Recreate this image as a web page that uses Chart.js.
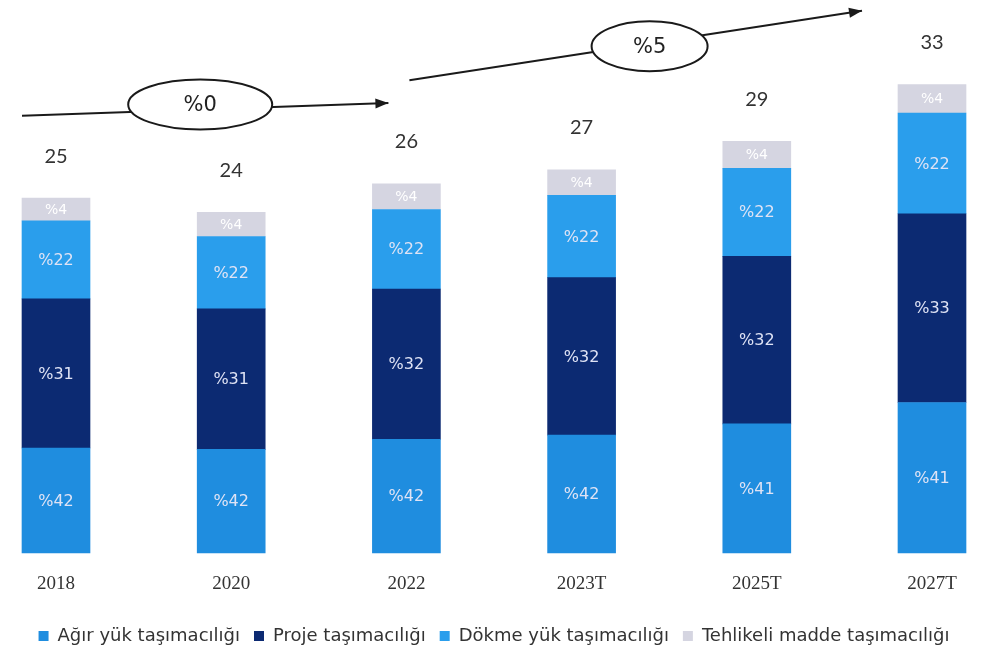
<!DOCTYPE html>
<html>
<head>
<meta charset="utf-8">
<script src="https://cdn.jsdelivr.net/npm/chart.js@4.4.1/dist/chart.umd.min.js"></script>
<style>
html, body { margin: 0; padding: 0; background: #fff; }
</style>
</head>
<body>
<canvas id="tasimaChart" width="988" height="659"></canvas>
<script>
var yillar = ['2018', '2020', '2022', '2023T', '2025T', '2027T'];
var toplamlar = [25, 24, 26, 27, 29, 33];

// segment heights as they appear in the picture
var agirYuk = [7.4, 7.3, 8.0, 8.3, 9.1, 10.6];
var proje = [10.5, 9.9, 10.6, 11.1, 11.8, 13.3];
var dokme = [5.5, 5.1, 5.6, 5.8, 6.2, 7.1];
var tehlikeli = [1.6, 1.7, 1.8, 1.8, 1.9, 2.0];

// share labels written on the segments
var agirYukPay = ['%42', '%42', '%42', '%42', '%41', '%41'];
var projePay = ['%31', '%31', '%32', '%32', '%32', '%33'];
var dokmePay = ['%22', '%22', '%22', '%22', '%22', '%22'];
var tehlikeliPay = ['%4', '%4', '%4', '%4', '%4', '%4'];

var buyumeOranlari = ['%0', '%5'];

var payEtiketleri = [agirYukPay, projePay, dokmePay, tehlikeliPay];

var segmentLabels = {
    id: 'segmentLabels',
    afterDatasetsDraw: function (chart) {
        var ctx = chart.ctx;
        ctx.save();
        ctx.textAlign = 'center';
        ctx.textBaseline = 'middle';
        chart.data.datasets.forEach(function (ds, i) {
            var meta = chart.getDatasetMeta(i);
            meta.data.forEach(function (bar, j) {
                var cy = (bar.y + bar.base) / 2;
                ctx.font = (i === 3 ? '14px' : '16px') + ' "DejaVu Sans", sans-serif';
                ctx.fillStyle = i === 3 ? '#ffffff' : '#dfe3f5';
                ctx.fillText(payEtiketleri[i][j], bar.x, cy + 1);
            });
        });
        // totals above the bars
        var top = chart.getDatasetMeta(3);
        ctx.font = '20px Lato, "Open Sans", sans-serif';
        ctx.fillStyle = '#333333';
        top.data.forEach(function (bar, j) {
            ctx.fillText(String(toplamlar[j]), bar.x, bar.y - 42);
        });
        ctx.restore();
    }
};

function ok(ctx, x1, y1, x2, y2) {
    ctx.beginPath();
    ctx.moveTo(x1, y1);
    ctx.lineTo(x2, y2);
    ctx.stroke();
    var a = Math.atan2(y2 - y1, x2 - x1);
    ctx.beginPath();
    ctx.moveTo(x2, y2);
    ctx.lineTo(x2 - 13 * Math.cos(a) + 5 * Math.sin(a), y2 - 13 * Math.sin(a) - 5 * Math.cos(a));
    ctx.lineTo(x2 - 13 * Math.cos(a) - 5 * Math.sin(a), y2 - 13 * Math.sin(a) + 5 * Math.cos(a));
    ctx.closePath();
    ctx.fill();
}

function elips(ctx, cx, cy, rx, ry, text) {
    ctx.beginPath();
    ctx.ellipse(cx, cy, rx, ry, 0, 0, Math.PI * 2);
    ctx.fillStyle = '#ffffff';
    ctx.fill();
    ctx.stroke();
    ctx.fillStyle = '#222222';
    ctx.font = '21px "DejaVu Sans", sans-serif';
    ctx.textAlign = 'center';
    ctx.textBaseline = 'middle';
    ctx.fillText(text, cx, cy + 1);
}

var buyumeOklari = {
    id: 'buyumeOklari',
    afterDraw: function (chart) {
        var ctx = chart.ctx;
        var x = chart.scales.x;
        var y = chart.scales.y;
        ctx.save();
        ctx.strokeStyle = '#1a1a1a';
        ctx.fillStyle = '#1a1a1a';
        ctx.lineWidth = 2;
        // 2018 -> 2022
        ok(ctx, x.getPixelForValue(0) - 34, y.getPixelForValue(30.8), x.getPixelForValue(2) - 18, y.getPixelForValue(31.7));
        elips(ctx, x.getPixelForValue(1) - 31, y.getPixelForValue(31.6), 72, 25, buyumeOranlari[0]);
        // 2022 -> 2027T
        ctx.strokeStyle = '#1a1a1a';
        ctx.fillStyle = '#1a1a1a';
        ok(ctx, x.getPixelForValue(2) + 3, y.getPixelForValue(33.3), x.getPixelForValue(5) - 70, y.getPixelForValue(38.2));
        elips(ctx, x.getPixelForValue(3) + 68, y.getPixelForValue(35.7), 58, 25, buyumeOranlari[1]);
        ctx.restore();
    }
};

// empty side axes keep the plot area away from the edges without narrowing the legend
function kenarEkseni(pos) {
    return {
        position: pos,
        display: true,
        stacked: true,
        min: 0,
        max: 36,
        grid: { display: false },
        border: { display: false },
        ticks: { display: false },
        afterFit: function (scale) {
            scale.width = 56;
        }
    };
}

var ctxTasima = document.getElementById('tasimaChart').getContext('2d');
var tasimaChartInstance = new Chart(ctxTasima, {
    type: 'bar',
    data: {
        labels: yillar,
        datasets: [
            { label: 'Ağır yük taşımacılığı', data: agirYuk, backgroundColor: '#1f8ddf', borderWidth: 0 },
            { label: 'Proje taşımacılığı', data: proje, backgroundColor: '#0c2a72', borderWidth: 0 },
            { label: 'Dökme yük taşımacılığı', data: dokme, backgroundColor: '#2a9eec', borderWidth: 0 },
            { label: 'Tehlikeli madde taşımacılığı', data: tehlikeli, backgroundColor: '#d5d5e1', borderWidth: 0 }
        ]
    },
    options: {
        responsive: false,
        animation: false,
        layout: {
            padding: { left: 0, right: 0, top: 42, bottom: 4 }
        },
        datasets: {
            bar: { barThickness: 68, clip: false }
        },
        plugins: {
            legend: {
                position: 'bottom',
                labels: {
                    boxWidth: 10,
                    boxHeight: 10,
                    padding: 14,
                    color: '#333333',
                    font: { size: 18, family: '"DejaVu Sans", sans-serif' }
                }
            },
            tooltip: { enabled: false }
        },
        scales: {
            x: {
                stacked: true,
                offset: false,
                grid: { display: false },
                border: { display: false },
                ticks: {
                    padding: 12,
                    color: '#333333',
                    font: { size: 19, family: '"Liberation Serif", serif' }
                },
                afterFit: function (scale) {
                    scale.height = 60;
                }
            },
            y: kenarEkseni('left'),
            y2: kenarEkseni('right')
        }
    },
    plugins: [segmentLabels, buyumeOklari]
});
</script>
</body>
</html>
